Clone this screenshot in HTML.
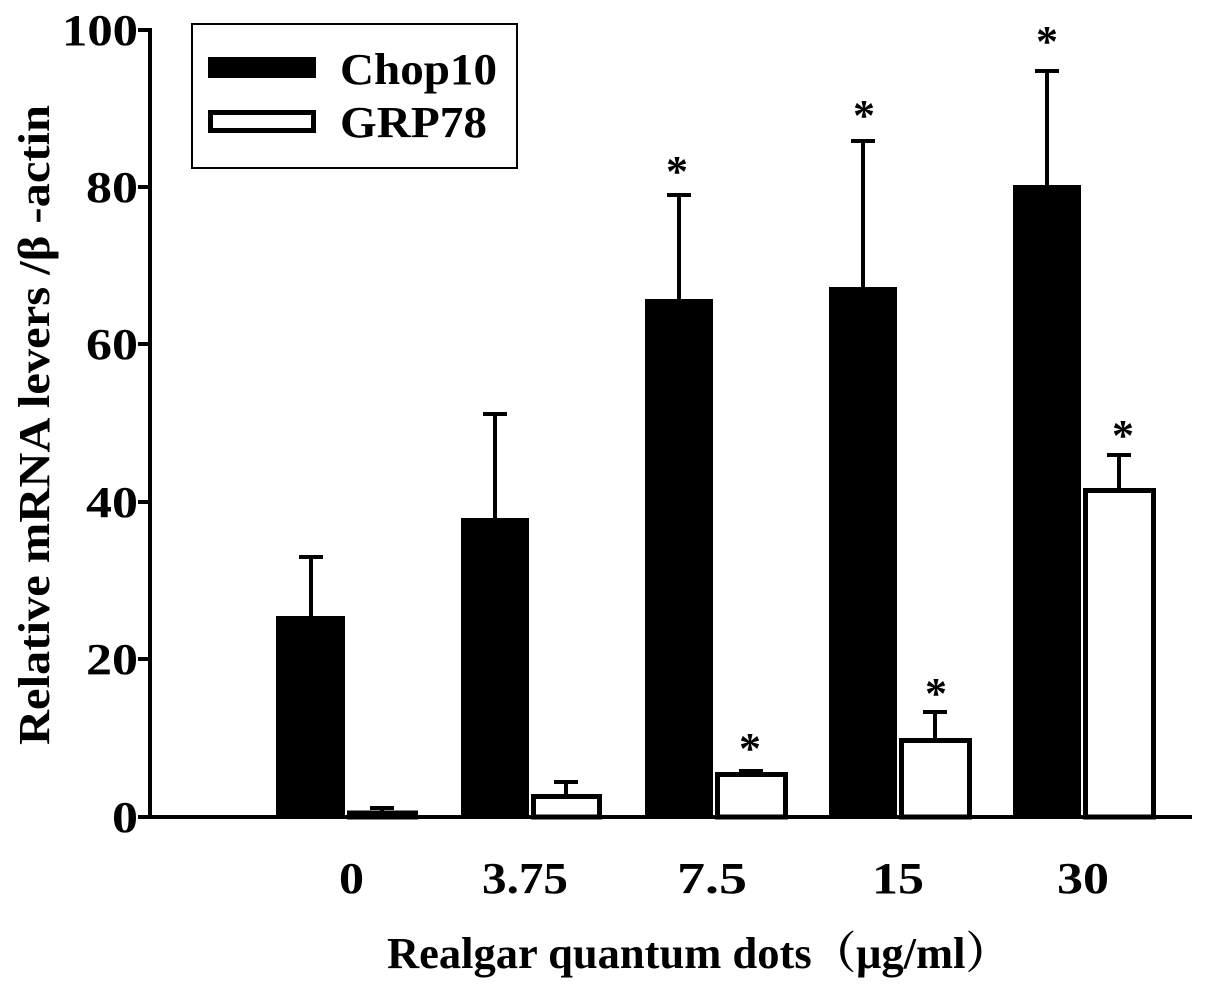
<!DOCTYPE html>
<html><head><style>body{margin:0;background:#fff}</style></head><body>
<svg width="1205" height="992" xmlns="http://www.w3.org/2000/svg" font-family="Liberation Serif, serif" font-weight="bold">
<rect width="1205" height="992" fill="#fff"/>
<g stroke="#000" stroke-width="4" fill="none">
<line x1="150" y1="28" x2="150" y2="819"/>
<line x1="148" y1="817" x2="1192" y2="817"/>
<line x1="138" y1="30" x2="150" y2="30"/>
<line x1="138" y1="187" x2="150" y2="187"/>
<line x1="138" y1="344" x2="150" y2="344"/>
<line x1="138" y1="502" x2="150" y2="502"/>
<line x1="138" y1="659" x2="150" y2="659"/>
<line x1="138" y1="817" x2="150" y2="817"/>
<path d="M311 616V557M299 557H323"/>
<path d="M382 813V808M370 808H394"/>
<path d="M495 518V414M483 414H507"/>
<path d="M566 796V782M554 782H578"/>
<path d="M679 299V195M667 195H691"/>
<path d="M751 774V771M739 771H763"/>
<path d="M863 287V141M851 141H875"/>
<path d="M935 740V712M923 712H947"/>
<path d="M1047 185V71M1035 71H1059"/>
<path d="M1119 490V455M1107 455H1131"/>
</g>
<g fill="#000">
<rect x="276" y="616" width="69" height="201"/>
<rect x="461" y="518" width="68" height="299"/>
<rect x="645" y="299" width="68" height="518"/>
<rect x="829" y="287" width="68" height="530"/>
<rect x="1013" y="185" width="68" height="632"/>
</g>
<g fill="#fff" stroke="#000" stroke-width="5">
<rect x="349.5" y="813" width="66" height="4"/>
<rect x="533.5" y="796.5" width="66" height="20.5"/>
<rect x="717.5" y="774.5" width="68" height="42.5"/>
<rect x="901.5" y="740.5" width="68" height="76.5"/>
<rect x="1085.5" y="490.5" width="68" height="326.5"/>
</g>
<g font-size="44" text-anchor="middle">
<text x="677" y="186">*</text>
<text x="864" y="130">*</text>
<text x="1047" y="56">*</text>
<text x="750" y="763">*</text>
<text x="936" y="708">*</text>
<text x="1123" y="450">*</text>
</g>
<rect x="192" y="24" width="325" height="144" fill="#fff" stroke="#000" stroke-width="2"/>
<rect x="208" y="57" width="108" height="21" fill="#000"/>
<rect x="210.5" y="112.5" width="103" height="18" fill="#fff" stroke="#000" stroke-width="5"/>
<g font-size="44">
<text x="340" y="84" textLength="157" lengthAdjust="spacingAndGlyphs">Chop10</text>
<text x="340" y="137" textLength="147" lengthAdjust="spacingAndGlyphs">GRP78</text>
</g>
<g font-size="44">
<text x="62" y="45" textLength="76" lengthAdjust="spacingAndGlyphs">100</text>
<text x="86" y="202" textLength="52" lengthAdjust="spacingAndGlyphs">80</text>
<text x="86" y="359" textLength="52" lengthAdjust="spacingAndGlyphs">60</text>
<text x="86" y="517" textLength="52" lengthAdjust="spacingAndGlyphs">40</text>
<text x="86" y="674" textLength="52" lengthAdjust="spacingAndGlyphs">20</text>
<text x="112" y="832" textLength="26" lengthAdjust="spacingAndGlyphs">0</text>
</g>
<g font-size="44">
<text x="339" y="893" textLength="25" lengthAdjust="spacingAndGlyphs">0</text>
<text x="482" y="893" textLength="86" lengthAdjust="spacingAndGlyphs">3.75</text>
<text x="677" y="893" textLength="70" lengthAdjust="spacingAndGlyphs">7.5</text>
<text x="872" y="893" textLength="52" lengthAdjust="spacingAndGlyphs">15</text>
<text x="1057" y="893" textLength="52" lengthAdjust="spacingAndGlyphs">30</text>
</g>
<text x="387" y="968" font-size="44" textLength="623" lengthAdjust="spacingAndGlyphs" font-family="Liberation Serif, Noto Serif CJK SC, serif">Realgar quantum dots（μg/ml）</text>
<text transform="translate(49,745) rotate(-90)" font-size="44" textLength="640" lengthAdjust="spacingAndGlyphs">Relative mRNA levers /β -actin</text>
</svg>
</body></html>
